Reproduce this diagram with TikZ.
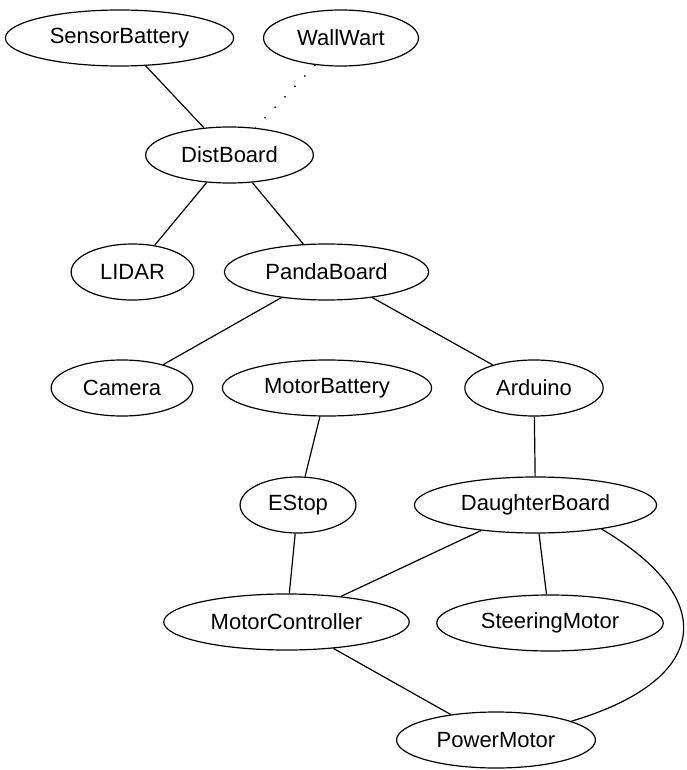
\documentclass[tikz,border=0pt]{standalone}
\usepackage{fontspec}
\setmainfont{Liberation Sans}
\usetikzlibrary{shapes.geometric}
\begin{document}
\begin{tikzpicture}[x=0.5pt,y=-0.5pt,
  part/.style={ellipse,draw,line width=0.6pt,minimum height=28pt,inner xsep=5.5pt,inner ysep=0pt,font=\fontsize{11}{13}\selectfont},
  wire/.style={line width=0.6pt},
  plug/.style={line width=0.7pt,dash pattern=on 0.7pt off 6.5pt}]
\useasboundingbox (0,0) rectangle (686,770);
\node[part] (sensorbat) at (119.5,38) {SensorBattery};
\node[part] (wallwart) at (341,38) {WallWart};
\node[part] (dist) at (229.5,155) {DistBoard};
\node[part] (lidar) at (132.5,272) {LIDAR};
\node[part] (panda) at (326.5,272) {PandaBoard};
\node[part] (camera) at (122,388) {Camera};
\node[part] (motorbat) at (327,388) {MotorBattery};
\node[part] (arduino) at (534,388) {Arduino};
\node[part] (estop) at (298,505) {EStop};
\node[part] (daughter) at (535.5,505) {DaughterBoard};
\node[part] (motorctl) at (286.5,622) {MotorController};
\node[part] (steer) at (550,623) {SteeringMotor};
\node[part] (power) at (496,740) {PowerMotor};
\draw[wire] (sensorbat)--(dist);
\draw[plug] (wallwart)--(dist);
\draw[wire] (dist)--(lidar);
\draw[wire] (dist)--(panda);
\draw[wire] (panda)--(camera);
\draw[wire] (panda)--(arduino);
\draw[wire] (motorbat)--(estop);
\draw[wire] (arduino)--(daughter);
\draw[wire] (estop)--(motorctl);
\draw[wire] (daughter)--(motorctl);
\draw[wire] (daughter)--(steer);
\draw[wire] (motorctl)--(power);
\draw[wire] (daughter.-20) .. controls (723,601) and (707,681) .. (power.14);
\end{tikzpicture}
\end{document}
